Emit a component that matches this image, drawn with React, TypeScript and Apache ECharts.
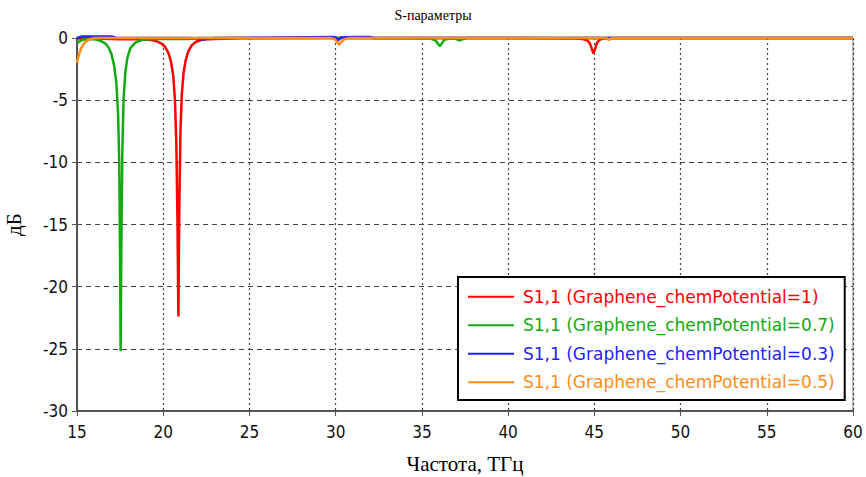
import React, { useEffect, useRef } from "react";
import * as echarts from "echarts";

const xTicks = [15, 20, 25, 30, 35, 40, 45, 50, 55, 60];
const yTicks = [0, -5, -10, -15, -20, -25, -30];

const seriesNames = [
  "S1,1 (Graphene_chemPotential=1)",
  "S1,1 (Graphene_chemPotential=0.7)",
  "S1,1 (Graphene_chemPotential=0.3)",
  "S1,1 (Graphene_chemPotential=0.5)",
];
const seriesColors = ["#ff0000", "#11aa11", "#2222ff", "#ff8c1a"];

const redFreq = [15, 16, 17, 17.5, 18.5, 19.2, 19.6, 19.9, 20.1, 20.3, 20.45, 20.58, 20.68, 20.76, 20.83, 20.88, 20.93, 21.0, 21.08, 21.18, 21.3, 21.45, 21.65, 21.9, 22.3, 23, 24.5, 30, 40, 44, 44.4, 44.6, 44.75, 44.85, 44.95, 45.05, 45.15, 45.3, 45.5, 46, 50, 60];
const redDb = [-0.05, -0.05, -0.08, -0.1, -0.1, -0.15, -0.25, -0.45, -0.7, -1.2, -1.9, -3.0, -5, -8.5, -15, -22.4, -14, -7.5, -4.5, -2.8, -1.8, -1.1, -0.6, -0.3, -0.12, -0.08, -0.02, 0, 0, -0.05, -0.1, -0.2, -0.45, -0.85, -1.25, -0.85, -0.4, -0.15, -0.05, 0, 0, 0];

const greenFreq = [15, 15.3, 15.7, 16.1, 16.4, 16.65, 16.85, 17.0, 17.15, 17.28, 17.38, 17.45, 17.5, 17.53, 17.57, 17.63, 17.7, 17.8, 17.92, 18.1, 18.4, 18.8, 19.5, 21.5, 22, 30, 35.5, 35.8, 35.95, 36.05, 36.15, 36.3, 36.6, 36.9, 37.1, 37.2, 37.35, 37.6, 40, 60];
const greenDb = [-0.4, -0.15, -0.08, -0.12, -0.25, -0.45, -0.8, -1.3, -2.2, -3.6, -6, -10, -18, -25.2, -17, -9, -5, -2.8, -1.6, -0.8, -0.35, -0.15, -0.08, -0.08, 0, 0, -0.05, -0.2, -0.5, -0.65, -0.45, -0.15, -0.05, -0.05, -0.15, -0.2, -0.1, 0, 0, 0];

const blueFreq = [15, 15.3, 16, 17, 17.3, 18, 21.5, 22, 22.3, 22.6, 23, 29.8, 30.0, 30.15, 30.3, 31, 32, 32.2, 40, 60];
const blueDb = [0, 0.12, 0.12, 0.12, 0, 0, 0, -0.05, -0.15, -0.05, 0, 0.08, 0.05, -0.2, 0.05, 0.08, 0.08, 0, 0, 0];

const orangeFreq = [15, 15.1, 15.25, 15.45, 15.7, 16, 17, 29.7, 29.95, 30.1, 30.2, 30.3, 30.5, 30.8, 45.7, 45.85, 46, 60];
const orangeDb = [-2.0, -1.4, -0.8, -0.35, -0.12, 0, 0, 0, -0.1, -0.35, -0.55, -0.35, -0.1, 0, 0, -0.15, 0, 0];

const freqs = [redFreq, greenFreq, blueFreq, orangeFreq];
const dbs = [redDb, greenDb, blueDb, orangeDb];

export default function App() {
  const ref = useRef<HTMLDivElement>(null);
  useEffect(() => {
    if (!ref.current) return;
    const chart = echarts.init(ref.current, null, { renderer: "svg" });
    const tickFont = "'Liberation Sans Narrow', 'DejaVu Sans Condensed', Tahoma, sans-serif";
    const serif = "'Liberation Serif', 'DejaVu Serif', 'Times New Roman', serif";
    chart.setOption({
      animation: false,
      backgroundColor: "#ffffff",
      title: {
        text: "S-параметры",
        left: "center",
        top: 3,
        textStyle: { fontFamily: serif, fontSize: 14, fontWeight: "normal", color: "#000" },
      },
      grid: {
        left: 77,
        right: 13,
        top: 38,
        bottom: 66,
        show: true,
        borderColor: "#777",
        borderWidth: 1,
        containLabel: false,
        outerBoundsMode: "none",
      },
      legend: {
        orient: "vertical",
        left: 458,
        top: 277,
        width: 390,
        backgroundColor: "#fff",
        borderColor: "#000",
        borderWidth: 2,
        borderRadius: 0,
        padding: [10, 10, 8, 10],
        itemWidth: 46,
        itemHeight: 14,
        itemGap: 9,
        icon: "path://M0,6 L46,6 L46,8 L0,8 Z",
        data: seriesNames.map((n, i) => ({
          name: n,
          textStyle: { color: seriesColors[i] },
        })),
        textStyle: {
          fontFamily: "'DejaVu Sans', Verdana, sans-serif",
          fontSize: 17,
          lineHeight: 19.5,
          padding: [0, 0, 0, 4],
        },
      },
      xAxis: {
        type: "value",
        min: 15,
        max: 60,
        interval: 5,
        name: "Частота, ТГц",
        nameLocation: "middle",
        nameGap: 42,
        nameTextStyle: { fontFamily: serif, fontSize: 21, color: "#000" },
        axisLine: { show: true, onZero: false, lineStyle: { color: "#555", width: 2 } },
        axisTick: { show: true, length: 5, lineStyle: { color: "#555" } },
        axisLabel: { fontFamily: tickFont, fontSize: 17, color: "#111", margin: 12 },
        splitLine: { show: true, lineStyle: { color: "#444", type: [2, 3], width: 1.2 } },
      },
      yAxis: {
        type: "value",
        min: -30,
        max: 0,
        interval: 5,
        name: "дБ",
        nameLocation: "middle",
        nameGap: 53,
        nameRotate: 90,
        nameTextStyle: { fontFamily: serif, fontSize: 21, color: "#000" },
        axisLine: { show: true, onZero: false, lineStyle: { color: "#555", width: 2 } },
        axisTick: { show: true, length: 5, lineStyle: { color: "#555" } },
        axisLabel: { fontFamily: tickFont, fontSize: 17, color: "#111", margin: 9 },
        splitLine: { show: true, lineStyle: { color: "#444", type: [5, 4], width: 1.2 } },
      },
      series: seriesNames.map((n, i) => ({
        name: n,
        type: "line",
        showSymbol: false,
        symbol: "none",
        clip: false,
        smooth: false,
        color: seriesColors[i],
        lineStyle: { color: seriesColors[i], width: 2.5 },
        data: freqs[i].map((f, j) => [f, dbs[i][j]]),
      })),
    });
    return () => chart.dispose();
  }, []);
  return (
    <div
      ref={ref}
      style={{ position: "fixed", left: 0, top: 0, width: 866, height: 477 }}
    />
  );
}
